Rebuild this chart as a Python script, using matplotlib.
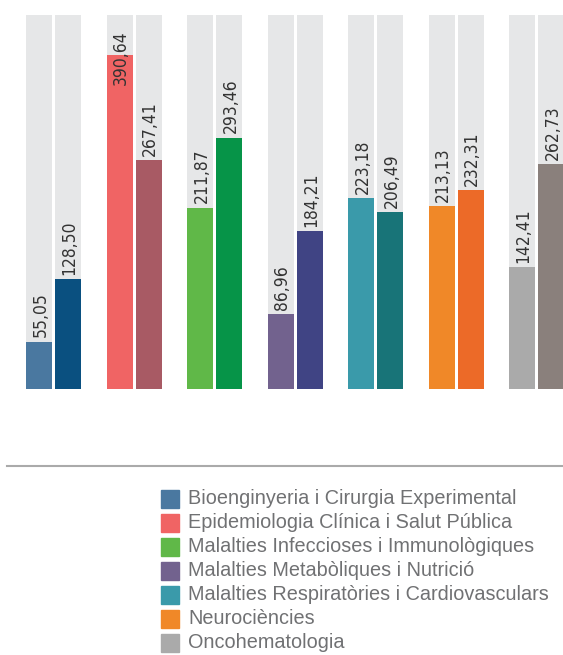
import numpy as np
import matplotlib.pyplot as plt
from matplotlib.patches import Rectangle

groups = ['Bioenginyeria i Cirurgia Experimental',
          'Epidemiologia Clínica i Salut Pública',
          'Malalties Infeccioses i Immunològiques',
          'Malalties Metabòliques i Nutrició',
          'Malalties Respiratòries i Cardiovasculars',
          'Neurociències',
          'Oncohematologia']
first = [55.05, 390.64, 211.87, 86.96, 223.18, 213.13, 142.41]
second = [128.50, 267.41, 293.46, 184.21, 206.49, 232.31, 262.73]
colors_first = ['#4a78a0', '#f06464', '#60b848', '#72628e', '#3a9aaa', '#f08828', '#aaaaaa']
colors_second = ['#0a5080', '#a85a64', '#069448', '#404484', '#187478', '#ec6a28', '#8a807c']
cap = 437  # height of the grey background bars

W, H = 563, 655
fig = plt.figure(figsize=(W / 100, H / 100), dpi=100)

# bar area, in pixel terms: baseline at y=388.7, top at y=15
ax = fig.add_axes([0, (H - 388.7) / H, 1, (388.7 - 15) / H])
x = np.arange(len(groups))
width = 26 / 80.5
off = 14.5 / 80.5
ax.bar(x - off, cap, width, color='#e6e7e8')
ax.bar(x + off, cap, width, color='#e6e7e8')
ax.bar(x - off, first, width, color=colors_first)
ax.bar(x + off, second, width, color=colors_second)

label_font = dict(family=['DejaVu Sans'], stretch='condensed', size=12.5,
                  color='#333333', rotation=90, ha='center')
for xs, vals in ((x - off, first), (x + off, second)):
    for xi, v in zip(xs, vals):
        txt = f'{v:.2f}'.replace('.', ',')
        if v + 6 + 60 > cap:
            ax.text(xi + 0.02, cap - 18, txt, va='top', **label_font)
        else:
            ax.text(xi + 0.02, v + 5, txt, va='bottom', **label_font)

ax.set_xlim(-53.5 / 80.5, (W - 53.5) / 80.5)
ax.set_ylim(0, cap)
ax.axis('off')

# separator and legend, drawn in pixel coordinates
lax = fig.add_axes([0, 0, 1, 1])
lax.set_xlim(0, W)
lax.set_ylim(H, 0)
lax.axis('off')
lax.plot([7, W], [465.7, 465.7], color='#aaaaaa', lw=1.5)
for i, (name, c) in enumerate(zip(groups, colors_first)):
    yc = 498.7 + 24 * i
    lax.add_patch(Rectangle((161, yc - 9), 18, 18, color=c))
    lax.text(188, yc, name, va='center', ha='left', fontsize=14.3,
             family=['Liberation Sans', 'DejaVu Sans'], color='#707173')

fig.savefig('out.png', dpi=100)
